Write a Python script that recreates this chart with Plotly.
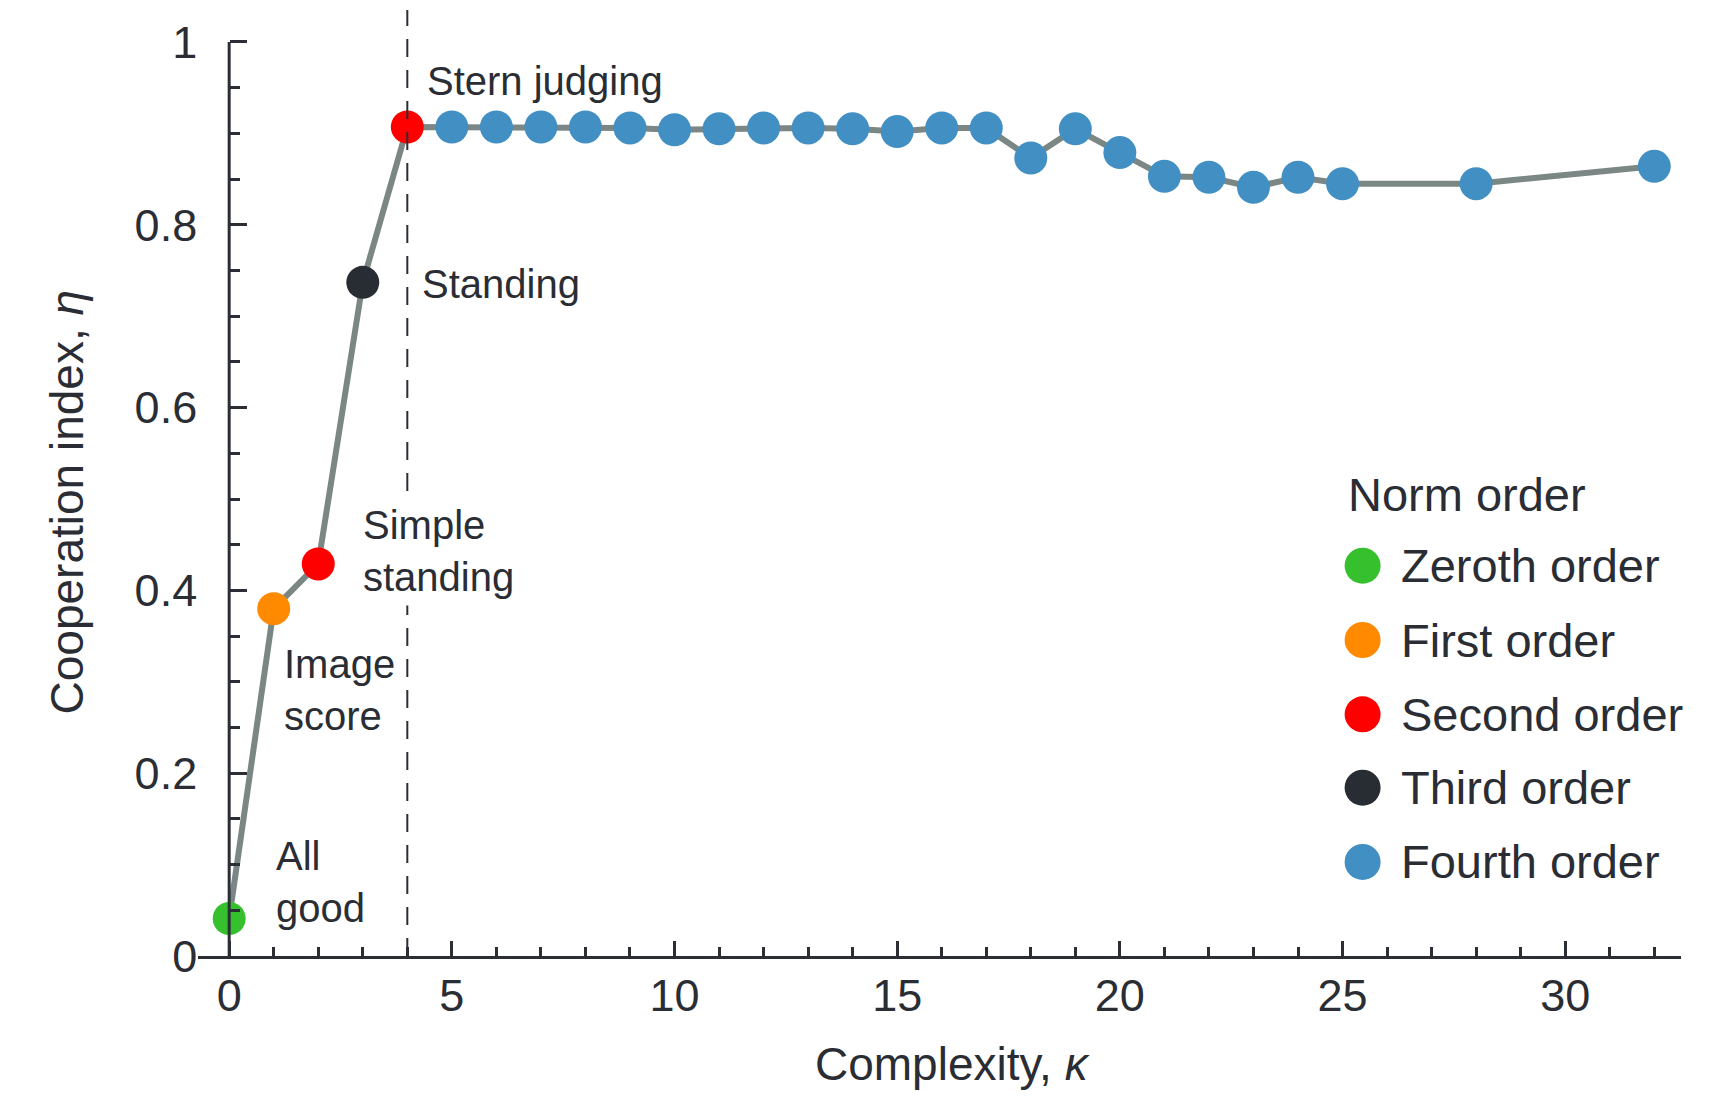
import plotly.graph_objects as go

# ---------------- data ----------------
kappa = [0, 1, 2, 3, 4, 5, 6, 7, 8, 9, 10, 11, 12, 13, 14, 15, 16, 17, 18, 19, 20, 21, 22, 23, 24, 25, 28, 32]
eta = [0.041, 0.380, 0.429, 0.737, 0.907, 0.907, 0.907, 0.907, 0.907, 0.906, 0.904, 0.905, 0.906, 0.906, 0.905,
       0.902, 0.906, 0.906, 0.873, 0.905, 0.879, 0.853, 0.852, 0.841, 0.852, 0.845, 0.845, 0.864]
norm_order = [0, 1, 2, 3, 2] + [4] * 23

order_names = ["Zeroth order", "First order", "Second order", "Third order", "Fourth order"]
order_colors = ["#37c02e", "#ff8a00", "#ff0000", "#282c33", "#428fc4"]

norm_labels = ["Stern judging", "Standing", "Simple<br>standing", "Image<br>score", "All<br>good"]
norm_label_x = [4.40, 4.28, 2.85, 1.18, 1.01]
norm_label_y = [0.957, 0.735, 0.443, 0.291, 0.081]
norm_label_bg = [None, None, "white", None, None]

x_ticks = [0, 5, 10, 15, 20, 25, 30]
y_ticks = [0, 0.2, 0.4, 0.6, 0.8, 1]
y_tick_text = ["0", "0.2", "0.4", "0.6", "0.8", "1"]

# ---------------- layout geometry ----------------
W, H = 1716, 1096
ML, MR, MT, MB = 197.5, 35, 9.6, 139.5
XR = [-0.7, 32.6]
YR = [0, 1.035]
PW, PH = W - ML - MR, H - MT - MB

def px2paper_x(px):
    return (px - ML) / PW

def px2paper_y(py):
    return (H - MB - py) / PH

FONT = "Liberation Sans, Arial, Helvetica, sans-serif"
TXT = "#2a2d33"
AX = "#2b2e35"

fig = go.Figure()

# connecting line
fig.add_trace(go.Scatter(
    x=kappa, y=eta, mode="lines",
    line=dict(color="#7b8784", width=6),
    showlegend=False, hoverinfo="skip"))

# markers coloured by norm order
fig.add_trace(go.Scatter(
    x=kappa, y=eta, mode="markers",
    marker=dict(size=33, color=[order_colors[o] for o in norm_order], line=dict(width=0)),
    showlegend=False, cliponaxis=False))

shapes = []
# vertical dashed line at kappa = 4
shapes.append(dict(type="line", xref="x", yref="y", x0=4, x1=4, y0=0, y1=YR[1],
                   line=dict(color=AX, width=2, dash="18px,13px"), layer="above"))
# y axis spine from 0 to 1
shapes.append(dict(type="line", xref="x", yref="y", x0=0, x1=0, y0=0, y1=1,
                   line=dict(color=AX, width=3), layer="above"))

annotations = []
for t, x, y, bg in zip(norm_labels, norm_label_x, norm_label_y, norm_label_bg):
    a = dict(text=t, x=x, y=y, xref="x", yref="y", showarrow=False,
             xanchor="left", yanchor="middle", align="left",
             font=dict(family=FONT, size=40, color=TXT))
    if bg:
        a["bgcolor"] = bg
        a["borderpad"] = 6
    annotations.append(a)

# axis titles
annotations.append(dict(text="Complexity, <i>κ</i>", x=px2paper_x(952), y=px2paper_y(1065),
                        xref="paper", yref="paper", showarrow=False, xanchor="center", yanchor="middle",
                        font=dict(family=FONT, size=46, color=TXT)))
annotations.append(dict(text="Cooperation index, <i>η</i>", x=px2paper_x(66), y=px2paper_y(503),
                        xref="paper", yref="paper", showarrow=False, xanchor="center", yanchor="middle",
                        textangle=-90, font=dict(family=FONT, size=46, color=TXT)))

# custom legend
annotations.append(dict(text="Norm order", x=px2paper_x(1346), y=px2paper_y(494.7),
                        xref="paper", yref="paper", showarrow=False, xanchor="left", yanchor="middle",
                        font=dict(family=FONT, size=47, color=TXT)))
leg_y = [565.8, 640.2, 714.6, 788.0, 862.4]
for name, col, ly in zip(order_names, order_colors, leg_y):
    annotations.append(dict(text=name, x=px2paper_x(1399), y=px2paper_y(ly),
                            xref="paper", yref="paper", showarrow=False, xanchor="left", yanchor="middle",
                            font=dict(family=FONT, size=47, color=TXT)))
    shapes.append(dict(type="circle", xref="paper", yref="paper",
                       xsizemode="pixel", ysizemode="pixel",
                       xanchor=px2paper_x(1362.5), yanchor=px2paper_y(ly),
                       x0=-18, x1=18, y0=-18, y1=18,
                       fillcolor=col, line=dict(width=0), layer="above"))

fig.update_layout(
    width=W, height=H,
    margin=dict(l=ML, r=MR, t=MT, b=MB, pad=0),
    plot_bgcolor="white", paper_bgcolor="white",
    font=dict(family=FONT, color=TXT),
    showlegend=False,
    shapes=shapes, annotations=annotations,
    xaxis=dict(range=XR, domain=[0, 1], showgrid=False, zeroline=False,
               showline=True, linecolor=AX, linewidth=3,
               tickmode="array", tickvals=x_ticks, ticktext=[str(v) for v in x_ticks],
               ticks="inside", ticklen=15, tickwidth=2.5, tickcolor=AX,
               tickfont=dict(family=FONT, size=45, color=TXT), ticklabelstandoff=-2,
               minor=dict(dtick=1, tick0=0, ticks="inside", ticklen=9, tickwidth=2.5, tickcolor=AX, showgrid=False)),
    yaxis=dict(range=YR, showgrid=False, zeroline=False, showline=False,
               anchor="free", position=(0 - XR[0]) / (XR[1] - XR[0]),
               tickmode="array", tickvals=y_ticks, ticktext=y_tick_text,
               ticks="inside", ticklen=17, tickwidth=2.5, tickcolor=AX,
               tickfont=dict(family=FONT, size=45, color=TXT), ticklabelstandoff=32,
               minor=dict(dtick=0.05, tick0=0, ticks="inside", ticklen=10, tickwidth=2.5, tickcolor=AX, showgrid=False)),
)

fig.write_html("out.html", config={"displayModeBar": False},
               post_script="document.body.style.margin='0';document.body.style.overflow='hidden';")
